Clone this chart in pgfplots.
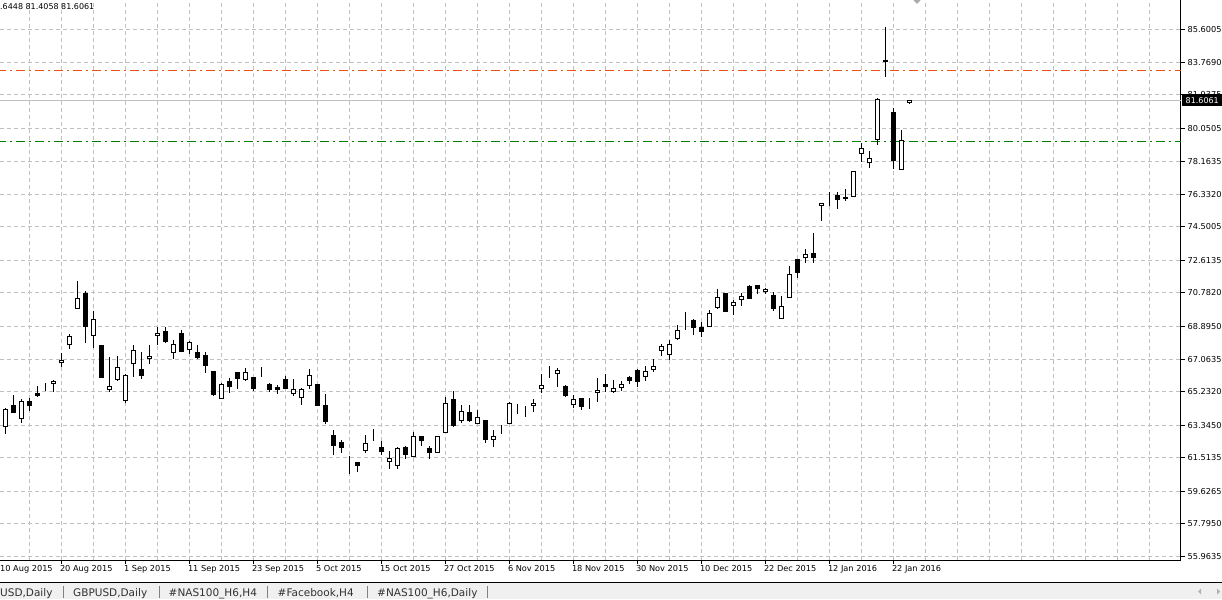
\documentclass[border=0pt]{standalone}
\usepackage{pgfplots}
\pgfplotsset{compat=1.18}
\usepackage{pgfplotstable}
\usepackage{fontspec}
\setmainfont{DejaVu Sans}
\definecolor{gridc}{RGB}{192,192,192}
\definecolor{redl}{RGB}{235,80,20}
\definecolor{greenl}{RGB}{0,128,0}
\definecolor{tabbg}{RGB}{240,240,240}
\definecolor{pricel}{RGB}{192,192,192}
\definecolor{tabtxt}{RGB}{50,50,50}

\pgfplotstableread{
k o h l c
0 63.30 64.30 62.84 64.24
1 64.43 65.04 64.02 64.05
2 63.73 64.80 63.48 64.69
3 64.69 64.86 64.17 64.44
4 65.14 65.55 64.95 65.00
5 65.60 65.70 65.29 65.60
6 65.70 65.89 65.23 65.82
7 66.90 67.39 66.60 67.01
8 67.91 68.46 67.65 68.36
9 69.92 71.46 69.92 70.48
10 70.76 70.88 67.95 68.89
11 68.40 69.75 67.70 69.30
12 67.84 67.87 66.02 66.02
13 65.37 67.17 65.23 65.53
14 65.93 67.24 65.85 66.60
15 64.75 66.21 64.58 66.15
16 66.83 67.86 66.07 67.56
17 66.49 67.46 65.96 66.13
18 67.09 67.86 66.79 67.22
19 68.40 68.85 67.87 68.53
20 68.59 68.89 67.95 68.04
21 67.45 68.14 67.09 67.90
22 68.51 68.70 67.48 67.48
23 67.61 68.10 67.35 68.02
24 67.46 67.84 67.05 67.14
25 67.28 67.46 66.30 66.69
26 66.34 66.34 65.01 65.10
27 64.86 65.70 64.82 65.66
28 65.82 66.00 65.14 65.51
29 66.32 66.32 65.40 65.96
30 65.91 66.55 65.85 66.32
31 66.04 66.04 65.29 65.40
32 66.21 66.62 66.07 66.21
33 65.65 65.70 65.19 65.37
34 65.44 65.61 65.10 65.37
35 65.93 66.11 65.40 65.40
36 65.14 65.96 65.01 65.37
37 64.93 65.42 64.50 65.33
38 65.59 66.52 65.40 66.15
39 65.66 65.66 64.44 64.44
40 64.48 65.10 63.41 63.54
41 62.74 63.08 61.65 62.22
42 62.35 62.50 61.80 62.08
43 61.26 61.60 60.59 61.26
44 61.26 61.26 60.70 61.07
45 61.93 62.78 61.77 62.33
46 62.74 63.12 62.44 62.74
47 62.10 62.44 61.65 61.88
48 61.28 61.88 60.87 61.49
49 61.09 62.10 60.90 62.05
50 62.10 62.18 61.43 61.71
51 61.60 62.96 61.60 62.72
52 62.72 62.72 62.16 62.50
53 62.05 62.16 61.43 61.82
54 61.82 62.72 61.82 62.72
55 62.91 64.95 62.91 64.59
56 64.80 65.25 63.23 63.32
57 63.60 64.50 63.49 64.13
58 64.07 64.50 63.53 63.60
59 63.45 64.18 63.45 63.79
60 63.62 63.62 62.36 62.53
61 62.55 63.08 62.10 62.72
62 63.21 63.36 62.85 63.21
63 63.45 64.65 63.45 64.56
64 64.27 64.54 63.96 64.27
65 64.22 64.43 63.83 64.22
66 64.47 64.84 64.09 64.58
67 65.42 66.23 65.14 65.59
68 66.60 66.68 65.98 66.60
69 66.23 66.55 65.51 66.41
70 65.51 65.59 64.95 65.03
71 64.52 65.04 64.33 64.80
72 64.86 64.86 64.20 64.41
73 64.63 64.86 64.27 64.63
74 65.21 66.02 64.67 65.31
75 65.61 66.23 65.24 65.53
76 65.24 65.89 65.17 65.42
77 65.45 65.82 65.29 65.65
78 66.04 66.11 65.66 65.85
79 66.45 66.51 65.51 65.79
80 66.07 66.68 65.85 66.38
81 66.47 67.07 66.35 66.66
82 67.54 67.91 67.25 67.78
83 67.33 68.14 67.01 67.90
84 68.25 68.98 68.14 68.68
85 69.19 69.71 68.70 69.19
86 69.21 69.32 68.44 68.85
87 68.85 69.15 68.32 68.61
88 68.89 69.83 68.89 69.64
89 69.98 71.02 69.86 70.54
90 70.76 70.76 69.73 69.73
91 70.09 70.39 69.56 70.26
92 70.43 70.78 70.07 70.61
93 71.14 71.25 70.46 70.50
94 71.22 71.22 70.74 71.02
95 70.88 71.06 70.74 70.99
96 70.65 70.82 69.79 69.90
97 69.36 70.60 69.36 70.01
98 70.54 72.30 70.54 71.83
99 72.64 72.64 71.61 71.92
100 72.77 73.27 72.49 72.96
101 73.01 74.17 72.49 72.77
102 75.69 75.84 74.85 75.84
103 76.35 76.48 75.69 76.35
104 76.29 76.48 75.52 76.05
105 76.16 76.61 75.96 76.07
106 76.22 77.63 76.22 77.59
107 78.64 79.20 78.17 78.92
108 78.13 78.77 77.83 78.36
109 79.43 81.73 79.10 81.69
110 83.87 85.74 82.95 83.79
111 80.94 81.20 77.74 78.26
112 77.74 79.95 77.74 79.37
113 81.52 81.6448 81.4058 81.6061
}\candles

\pgfplotsset{
  mtframe/.style={
    at={(0,0)}, anchor=north west,
    scale only axis, width=1181pt, height=560pt,
    xmin=-0.666, xmax=146.96, ymin=55.765, ymax=87.2596,
  }
}

\begin{document}
\begin{tikzpicture}[x=1pt,y=1pt]
\begin{axis}[
  mtframe,
  axis x line*=bottom, axis y line*=right,
  axis line style={black, line width=1pt},
  xtick={7,15,...,111},
  xticklabels={20 Aug 2015,1 Sep 2015,11 Sep 2015,23 Sep 2015,5 Oct 2015,15 Oct 2015,27 Oct 2015,6 Nov 2015,18 Nov 2015,30 Nov 2015,10 Dec 2015,22 Dec 2015,12 Jan 2016,22 Jan 2016},
  minor xtick={3,7,...,143},
  xminorgrids, minor tick length=0pt,
  ytick={55.9635,57.795,59.6265,61.5135,63.345,65.232,67.0635,68.895,70.782,72.6135,74.5005,76.332,78.1635,80.0505,81.9375,83.769,85.6005},
  yticklabels={55.9635,57.7950,59.6265,61.5135,63.3450,65.2320,67.0635,68.8950,70.7820,72.6135,74.5005,76.3320,78.1635,80.0505,81.9375,83.7690,85.6005},
  ymajorgrids,
  major grid style={gridc, dash pattern=on 4pt off 3pt, line width=1pt},
  minor grid style={gridc, dash pattern=on 4pt off 3pt, line width=1pt},
  tick align=outside, major tick length=4pt,
  tick style={black, line width=1pt},
  tick label style={font=\fontsize{8.2}{9}\selectfont, inner sep=0pt},
  xticklabel style={anchor=north west, xshift=-1.5pt, yshift=-1pt},
  yticklabel style={anchor=west, xshift=2.5pt},
]
\addplot[redl, line width=1pt, dash pattern=on 9pt off 4pt on 2pt off 4pt] coordinates {(-1,83.28) (148,83.28)};
\addplot[greenl, line width=1pt, dash pattern=on 9pt off 4pt on 2pt off 4pt] coordinates {(-1,79.31) (148,79.31)};
\addplot[pricel, line width=1pt] coordinates {(-1,81.6061) (148,81.6061)};
\addplot[draw=none, mark=none,
  error bars/.cd, y dir=both, y explicit, error mark=none,
  error bar style={draw=black, solid, line width=1pt}]
  table[x=k, y expr={(\thisrow{h}+\thisrow{l})/2}, y error expr={(\thisrow{h}-\thisrow{l})/2}] {\candles};
\end{axis}
\begin{axis}[
  mtframe, hide axis,
  ybar stacked, bar width=4pt,
]
\addplot[draw=none, fill=none] table[x=k, y expr={min(\thisrow{o},\thisrow{c})}] {\candles};
\addplot[draw=black, fill=white, line width=1pt] table[x=k, y expr={max(\thisrow{c}-\thisrow{o},0)}] {\candles};
\addplot[draw=black, fill=black, line width=1pt] table[x=k, y expr={max(\thisrow{o}-\thisrow{c},0)}] {\candles};
\end{axis}
% first date label
\node[anchor=north west, inner sep=0pt, font=\fontsize{8.2}{9}\selectfont] at (0,-565) {10 Aug 2015};
% top-left quote text
\node[anchor=north west, inner sep=0pt, font=\fontsize{8}{9}\selectfont] at (0,-3) {.6448 81.4058 81.6061};
% current price box
\fill[black] (1182,-94.5) rectangle (1222,-106.5);
\node[anchor=west, inner sep=0pt, text=white, font=\fontsize{8}{9}\selectfont] at (1185.5,-100.5) {81.6061};
% chart shift marker
\fill[gray!65] (913.3,0) -- (920.7,0) -- (917,-4) -- cycle;
% tab bar
\fill[tabbg] (0,-582) rectangle (1222,-599);
\draw[black, line width=1pt] (0,-582) -- (1222,-582);
\begin{scope}[font=\fontsize{10.5}{12}\selectfont, text=tabtxt]
\node[anchor=base west, inner sep=0pt] at (0,-596.3) {USD,Daily};
\node[anchor=base west, inner sep=0pt] at (73,-596.3) {GBPUSD,Daily};
\node[anchor=base west, inner sep=0pt] at (168.5,-596.3) {\#NAS100\_H6,H4};
\node[anchor=base west, inner sep=0pt] at (277.5,-596.3) {\#Facebook,H4};
\node[anchor=base west, inner sep=0pt] at (377,-596.3) {\#NAS100\_H6,Daily};
\end{scope}
\foreach \sx in {63,159,267,367,487} {\draw[gray, line width=0.8pt] (\sx,-586) -- (\sx,-598);}
\fill[gray!60] (1201,-588.5) -- (1201,-594.5) -- (1198,-591.5) -- cycle;
\fill[gray!60] (1217,-588.5) -- (1217,-594.5) -- (1220,-591.5) -- cycle;
\pgfresetboundingbox
\path[use as bounding box] (0,0) rectangle (1222,-599);
\end{tikzpicture}
\end{document}
